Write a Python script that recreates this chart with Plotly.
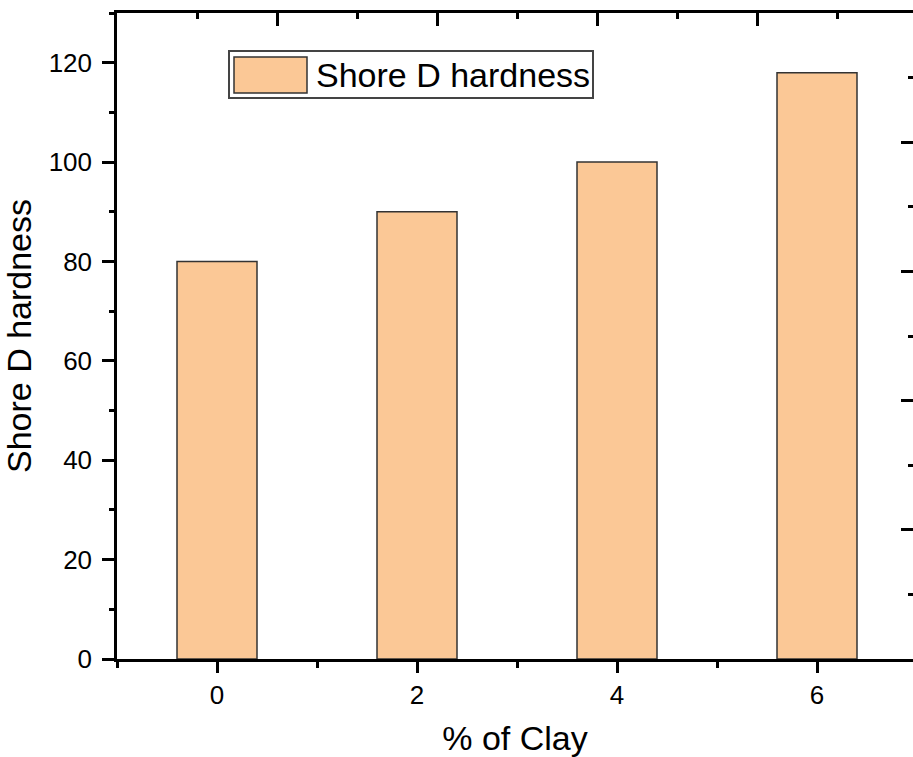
import plotly.graph_objects as go

# Data
clay_pct = [0, 2, 4, 6]
shore_d = [80, 90, 100, 118]
series_name = "Shore D hardness"
x_title = "% of Clay"
y_title = "Shore D hardness"

FONT = "Arial, 'Liberation Sans', sans-serif"
W, H = 913, 757
L, R, T, B = 117, 0, 13, 98
PW, PH = W - L - R, H - T - B

def px(x):
    return (x - L) / PW

def py(y):
    return (H - B - y) / PH

fig = go.Figure()
fig.add_trace(go.Bar(
    x=clay_pct, y=shore_d, width=0.8, name=series_name,
    marker=dict(color="rgb(251,200,150)", line=dict(color="#333333", width=1.5)),
    showlegend=False,
))
# invisible trace to anchor secondary (mirror-style) axes
fig.add_trace(go.Scatter(x=[None], y=[None], xaxis="x2", yaxis="y2",
                         mode="markers", showlegend=False, hoverinfo="skip"))

axis_common = dict(showgrid=False, zeroline=False, linecolor="black", linewidth=2.5,
                   tickcolor="black", tickwidth=2.5, automargin=False)

fig.update_layout(
    width=W, height=H,
    margin=dict(l=L, r=R, t=T, b=B, pad=0),
    paper_bgcolor="white", plot_bgcolor="white",
    font=dict(family=FONT, color="black", size=25),
    xaxis=dict(**axis_common, range=[-1, 6.96], tickmode="linear", tick0=0, dtick=2,
               ticks="outside", ticklen=11, showline=True,
               minor=dict(dtick=1, tick0=-1, ticklen=6, tickwidth=2.5, tickcolor="black", ticks="outside"),
               tickfont=dict(size=26), ticklabelstandoff=0,
               title=dict(text=x_title, font=dict(size=34), standoff=26)),
    yaxis=dict(**axis_common, range=[0, 130], tickmode="linear", tick0=0, dtick=20,
               ticks="outside", ticklen=12, showline=True,
               minor=dict(dtick=10, ticklen=5, tickwidth=2.5, tickcolor="black", ticks="outside"),
               tickfont=dict(size=26), ticklabelstandoff=5,
               title=dict(text=y_title, font=dict(size=34), standoff=7)),
    xaxis2=dict(**axis_common, overlaying="x", side="top", anchor="y", range=[0, PW / 160],
                tickmode="linear", tick0=0, dtick=1, ticks="inside", ticklen=13,
                showline=True, showticklabels=False,
                minor=dict(dtick=0.5, ticklen=6, tickwidth=2.5, tickcolor="black", ticks="inside")),
    yaxis2=dict(**axis_common, overlaying="y", side="right", anchor="x", range=[0, 5],
                tickmode="linear", tick0=0, dtick=1, ticks="inside", ticklen=12,
                showline=False, showticklabels=False,
                minor=dict(dtick=0.5, ticklen=5, tickwidth=2.5, tickcolor="black", ticks="inside")),
    showlegend=False,
)

# Legend (drawn as box + swatch + text)
fig.add_shape(type="rect", xref="paper", yref="paper",
              x0=px(229), x1=px(593), y0=py(98), y1=py(51),
              line=dict(color="#444444", width=2), fillcolor="white")
fig.add_shape(type="rect", xref="paper", yref="paper",
              x0=px(234), x1=px(307), y0=py(93), y1=py(57),
              line=dict(color="#333333", width=1.5), fillcolor="rgb(251,200,150)")
fig.add_annotation(xref="paper", yref="paper", x=px(314), y=py(75),
                   text=series_name, showarrow=False, xanchor="left", yanchor="middle",
                   font=dict(size=34, family=FONT, color="black"))

fig.write_html("out.html")
